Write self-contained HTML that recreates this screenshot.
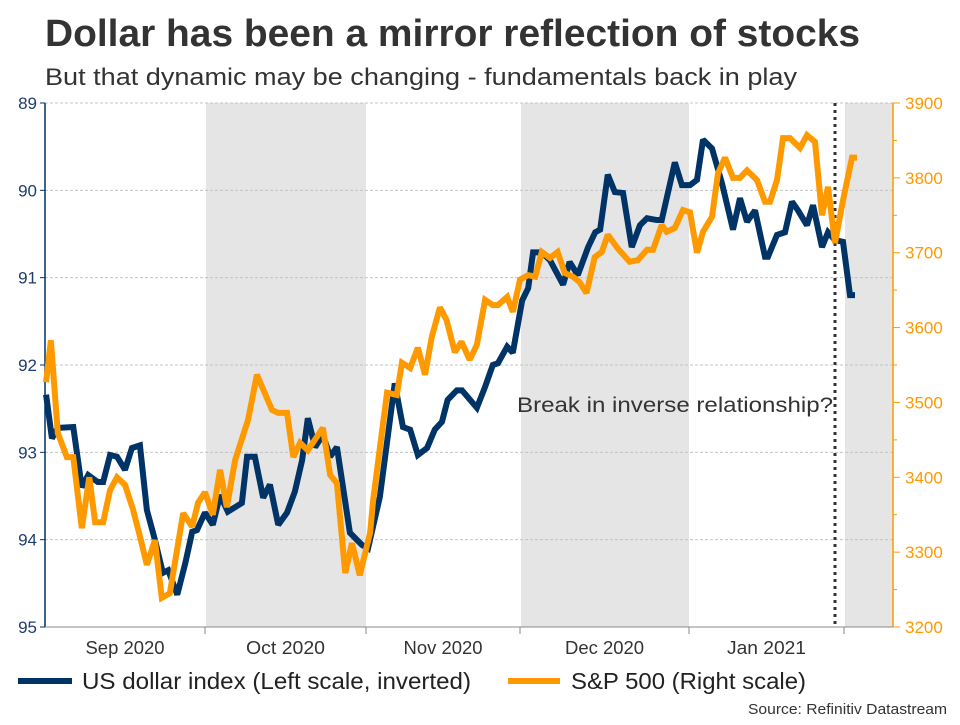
<!DOCTYPE html>
<html><head><meta charset="utf-8"><style>
body{margin:0;background:#fff;width:960px;height:720px;overflow:hidden;font-family:"Liberation Sans",Arial,sans-serif}
svg text{font-family:"Liberation Sans",Arial,sans-serif}
</style></head><body>
<svg id="c" width="960" height="720">
<text x="45" y="46" font-size="38" font-weight="bold" fill="#333" textLength="815" lengthAdjust="spacingAndGlyphs">Dollar has been a mirror reflection of stocks</text>
<text x="45" y="85" font-size="24" fill="#333" textLength="752" lengthAdjust="spacingAndGlyphs">But that dynamic may be changing - fundamentals back in play</text>
<g id="shade"></g><g id="grid"></g><g id="axes"></g><g id="series"></g>
<text x="517" y="412" font-size="21" fill="#333" textLength="316" lengthAdjust="spacingAndGlyphs">Break in inverse relationship?</text>
<line x1="18" y1="681" x2="72" y2="681" stroke="#003366" stroke-width="6"/>
<text x="82" y="689" font-size="23" fill="#222" textLength="389" lengthAdjust="spacingAndGlyphs">US dollar index (Left scale, inverted)</text>
<line x1="508" y1="681" x2="560" y2="681" stroke="#ff9900" stroke-width="6"/>
<text x="571" y="689" font-size="23" fill="#222" textLength="235" lengthAdjust="spacingAndGlyphs">S&amp;P 500 (Right scale)</text>
<text x="748" y="714" font-size="15" fill="#333" textLength="199" lengthAdjust="spacingAndGlyphs">Source: Refinitiv Datastream</text>
</svg>
<script>
// days since 1 Sep 2020
const monthStartDays=[0,30,61,91,122,153];
const monthLabels=["Sep 2020","Oct 2020","Nov 2020","Dec 2020","Jan 2021"];
const shadedMonths=[1,3,5];
const leftTicks=[89,90,91,92,93,94,95];
const rightTicks=[3900,3800,3700,3600,3500,3400,3300,3200];
const breakDay=151.2;
const usdDays=[0.2,1.3,2.4,5.3,6.9,8.1,9.9,10.9,12.2,13.5,15.0,16.3,17.8,19.1,20.6,22.1,23.1,24.8,26.3,27.6,28.5,30.0,31.5,32.9,34.4,37.1,38.1,39.6,41.2,42.5,44.1,45.8,47.3,48.7,49.8,51.2,52.7,54.1,55.4,57.9,60.2,61.4,63.7,66.6,68.2,69.6,71.1,72.9,74.4,75.8,76.9,78.7,79.7,82.6,84.2,85.7,86.7,88.5,89.6,91.4,92.5,93.4,95.0,96.5,98.9,100.1,101.6,103.5,104.8,105.7,107.1,108.4,109.9,111.5,113.0,114.3,116.1,117.0,119.4,120.7,122.2,123.6,124.8,126.6,128.6,130.8,132.2,133.6,135.2,137.2,137.8,139.6,141.2,142.6,143.8,145.6,146.8,148.6,149.8,151.2,152.8,154.2,155.2];
const usdValues=[92.34,92.84,92.72,92.71,93.40,93.26,93.34,93.34,93.03,93.05,93.20,92.95,92.92,93.66,94.00,94.38,94.35,94.63,94.27,93.91,93.89,93.69,93.83,93.49,93.68,93.58,93.05,93.05,93.52,93.37,93.83,93.69,93.45,93.09,92.61,92.94,92.80,93.05,92.94,93.92,94.06,94.10,93.51,92.21,92.71,92.74,93.03,92.95,92.74,92.65,92.40,92.29,92.29,92.49,92.25,92.00,91.98,91.79,91.86,91.26,91.12,90.71,90.71,90.80,91.08,90.82,90.97,90.65,90.48,90.45,89.82,90.02,90.03,90.65,90.40,90.32,90.34,90.34,89.68,89.94,89.94,89.88,89.42,89.52,89.92,90.45,90.09,90.36,90.23,90.76,90.76,90.51,90.48,90.13,90.23,90.40,90.17,90.65,90.48,90.57,90.59,91.20,91.20];
const spxDays=[0.2,1.1,2.4,4.1,5.3,6.9,8.3,9.4,10.9,12.2,13.5,15.0,16.5,17.8,19.1,20.6,21.9,23.4,25.9,27.6,28.7,30.0,31.5,32.9,34.2,35.8,38.3,40.0,42.9,44.1,45.8,47.0,48.3,49.8,52.7,54.1,55.4,57.0,58.3,59.8,61.8,62.4,65.1,67.0,68.0,69.6,71.1,72.5,73.8,75.4,76.7,78.3,79.6,81.2,82.6,84.2,85.7,86.7,88.5,89.6,91.0,92.5,93.8,95.0,96.5,97.9,99.2,100.7,101.9,103.2,104.7,106.0,107.1,108.9,111.1,112.6,114.3,115.4,117.0,117.9,119.4,120.9,122.2,123.6,124.8,126.6,127.8,129.2,130.8,132.2,133.6,135.6,137.2,138.2,139.6,140.8,142.2,144.2,145.6,147.2,148.6,149.8,151.2,152.8,154.6,155.6];
const spxValues=[3527,3583,3459,3427,3427,3332,3400,3340,3340,3383,3400,3390,3357,3321,3283,3316,3239,3245,3352,3334,3366,3380,3350,3410,3360,3423,3477,3537,3490,3486,3486,3427,3446,3436,3466,3403,3392,3272,3312,3269,3326,3370,3513,3510,3553,3546,3573,3537,3587,3627,3610,3567,3581,3557,3577,3637,3630,3630,3641,3621,3664,3670,3668,3701,3693,3701,3673,3668,3661,3646,3694,3701,3724,3706,3688,3690,3704,3704,3737,3728,3733,3757,3754,3700,3728,3748,3806,3827,3800,3800,3810,3797,3768,3768,3797,3853,3853,3840,3857,3848,3750,3788,3713,3770,3827,3827];

const NS="http://www.w3.org/2000/svg";
const X0=45,X1=893,Y0=103,Y1=627;
const monthPx=[45,205,366,520,689,844];
function xs(d){
  for(let i=0;i<monthStartDays.length-1;i++){
    const a=monthStartDays[i],b=monthStartDays[i+1];
    if(d<=b||i===monthStartDays.length-2) return monthPx[i]+(d-a)/(b-a)*(monthPx[i+1]-monthPx[i]);
  }
}
function yl(v){return Y0+(v-89)/(95-89)*(Y1-Y0);}
function yr(v){return Y0+(3900-v)/(3900-3200)*(Y1-Y0);}
function mk(tag,attrs,parent){const e=document.createElementNS(NS,tag);for(const k in attrs)e.setAttribute(k,attrs[k]);parent.appendChild(e);return e;}
const shade=document.getElementById('shade'),grid=document.getElementById('grid'),axes=document.getElementById('axes'),series=document.getElementById('series');
shadedMonths.forEach(i=>{
  const a=xs(monthStartDays[i]);const b=i+1<monthStartDays.length?xs(monthStartDays[i+1]):X1;
  const r=mk('rect',{x:a+1,y:Y0,width:Math.min(b,X1)-a-1,height:Y1-Y0,fill:'#e5e5e5'},shade);
  
  
});
leftTicks.forEach(v=>{
  const y=yl(v);
  if(v!==89&&v!==95){const g=mk('line',{x1:X0,x2:X1,y1:y,y2:y,stroke:'#c4c4c4','stroke-dasharray':'3,2','stroke-width':1},grid);
  
  }
  mk('line',{x1:X0-5,x2:X0,y1:y,y2:y,stroke:'#003366'},axes);
  const t=mk('text',{x:X0-8,y:y+6,'font-size':17,fill:'#1f3d6b','text-anchor':'end'},axes);
  t.textContent=v;
  
  
});
mk('line',{x1:X0,x2:X1,y1:Y0,y2:Y0,stroke:'#c4c4c4','stroke-dasharray':'3,2'},grid);
const half=yr(3850)-yr(3900);
rightTicks.forEach(v=>{
  const y=yr(v);
  mk('line',{x1:X1,x2:X1+7,y1:y,y2:y,stroke:'#ff9900'},axes);
  if(v>rightTicks[rightTicks.length-1]) mk('line',{x1:X1,x2:X1+4,y1:y+half,y2:y+half,stroke:'#ff9900'},axes);
  const t=mk('text',{x:X1+12,y:y+6,'font-size':17,fill:'#ff9900'},axes);
  t.textContent=v;
  
  
});
const la=mk('line',{x1:X0,x2:X0,y1:Y0,y2:Y1,stroke:'#003366','stroke-width':1.5},axes);


const ra=mk('line',{x1:X1,x2:X1,y1:Y0,y2:Y1,stroke:'#ff9900','stroke-width':1.5},axes);


const xa=mk('line',{x1:X0,x2:X1,y1:Y1,y2:Y1,stroke:'#888','stroke-width':1},axes);


monthStartDays.forEach(d=>{if(d>0)mk('line',{x1:xs(d),x2:xs(d),y1:Y1,y2:Y1+7,stroke:'#888'},axes);});
monthLabels.forEach((m,i)=>{
  const t=mk('text',{x:(xs(monthStartDays[i])+xs(monthStartDays[i+1]))/2,y:654,'font-size':18,fill:'#333','text-anchor':'middle',textLength:79,lengthAdjust:'spacingAndGlyphs'},axes);
  t.textContent=m;
  
  
});
const bl=mk('line',{x1:xs(breakDay),x2:xs(breakDay),y1:Y0,y2:Y1,stroke:'#333','stroke-width':3,'stroke-dasharray':'3,4'},series);


const pu=mk('polyline',{points:usdDays.map((d,i)=>xs(d)+','+yl(usdValues[i])).join(' '),fill:'none',stroke:'#003366','stroke-width':6,'stroke-linejoin':'miter','stroke-miterlimit':2},series);


const ps=mk('polyline',{points:spxDays.map((d,i)=>xs(d)+','+yr(spxValues[i])).join(' '),fill:'none',stroke:'#ff9900','stroke-width':6,'stroke-linejoin':'miter','stroke-miterlimit':2},series);


</script>
</body></html>
